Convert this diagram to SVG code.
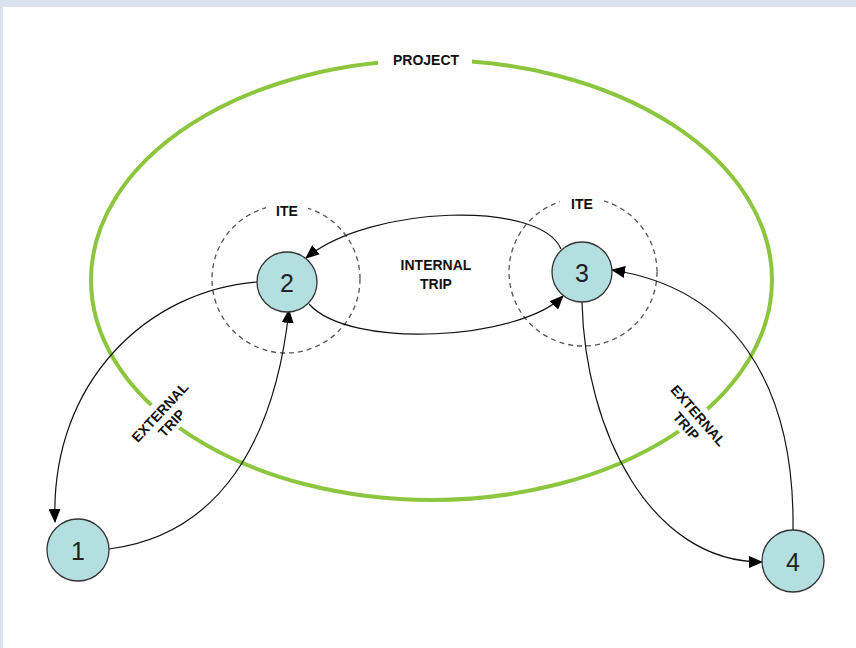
<svg xmlns="http://www.w3.org/2000/svg" width="856" height="648" viewBox="0 0 856 648">
<style>
.lbl{font-family:"Liberation Sans",Arial,sans-serif;font-weight:bold;font-size:14px;fill:#111;text-anchor:middle}
.num{font-family:"Liberation Sans",Arial,sans-serif;font-size:25px;fill:#222;text-anchor:middle;dominant-baseline:central}
.node{fill:#b3dfe1;stroke:#333;stroke-width:1.3}
.ite{fill:none;stroke:#555;stroke-width:1.3;stroke-dasharray:5,4}
.conn{fill:none;stroke:#111;stroke-width:1.2}
</style>
<defs>
<marker id="arr" markerUnits="userSpaceOnUse" markerWidth="14" markerHeight="12" refX="13" refY="6" orient="auto">
<path d="M0,0 L14,6 L0,12 z" fill="#000"/>
</marker>
</defs>
<rect x="0" y="0" width="856" height="648" fill="#dbe2ef"/>
<rect x="3" y="7" width="853" height="641" fill="#fff"/>
<g id="project">
<ellipse cx="431.5" cy="280" rx="340.5" ry="220" fill="none" stroke="#8cc63f" stroke-width="4"/>
<rect x="378" y="48" width="94" height="24" fill="#fff"/>
<rect x="-36" y="-18" width="72" height="36" fill="#fff" transform="translate(165,417) rotate(-47)"/>
<rect x="-38" y="-18" width="76" height="36" fill="#fff" transform="translate(693,420) rotate(49)"/>
<text class="lbl" x="426" y="65">PROJECT</text>
</g>
<g id="ite2">
<circle class="ite" cx="286" cy="279" r="74"/>
<rect x="266" y="198" width="42" height="18" fill="#fff"/>
<text class="lbl" x="287" y="216">ITE</text>
</g>
<g id="ite3">
<circle class="ite" cx="583" cy="272" r="74"/>
<rect x="560" y="190" width="44" height="18" fill="#fff"/>
<text class="lbl" x="582" y="209">ITE</text>
</g>
<g id="connectors">
<path class="conn" d="M561,249 C540,200 370,205 306,258" marker-end="url(#arr)"/>
<path class="conn" d="M309,304 C350,350 520,340 563,296" marker-end="url(#arr)"/>
<path class="conn" d="M257,282 C150,290 50,380 55,522" marker-end="url(#arr)"/>
<path class="conn" d="M109,549 C220,535 275,440 289,310" marker-end="url(#arr)"/>
<path class="conn" d="M582,302 C585,430 650,562 762,562" marker-end="url(#arr)"/>
<path class="conn" d="M793,530 C795,380 730,288 612,270" marker-end="url(#arr)"/>
</g>
<g id="internal-trip-label">
<text class="lbl" x="436" y="270">INTERNAL</text>
<text class="lbl" x="436" y="289">TRIP</text>
</g>
<g id="external-trip-left" transform="translate(165,417) rotate(-47)">
<text class="lbl" x="0" y="-2">EXTERNAL</text>
<text class="lbl" x="0" y="14">TRIP</text>
</g>
<g id="external-trip-right" transform="translate(693,420) rotate(49)">
<text class="lbl" x="0" y="-2">EXTERNAL</text>
<text class="lbl" x="0" y="14">TRIP</text>
</g>
<g id="node1"><circle class="node" cx="78" cy="550" r="31"/><text class="num" x="78" y="551">1</text></g>
<g id="node2"><circle class="node" cx="287" cy="282" r="30"/><text class="num" x="287" y="283">2</text></g>
<g id="node3"><circle class="node" cx="582" cy="272" r="30"/><text class="num" x="582" y="273">3</text></g>
<g id="node4"><circle class="node" cx="793" cy="561" r="31"/><text class="num" x="793" y="562">4</text></g>
</svg>
